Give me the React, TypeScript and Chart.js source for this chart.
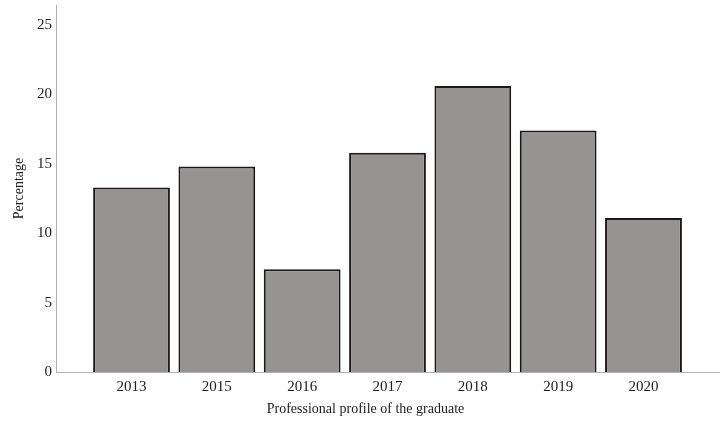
import { useEffect, useRef } from "react";
import { Chart, registerables } from "chart.js";

Chart.register(...registerables);

const categories = ["2013", "2015", "2016", "2017", "2018", "2019", "2020"];
const percentages = [13.3, 14.8, 7.4, 15.8, 20.6, 17.4, 11.1];
const yTicks = [0, 5, 10, 15, 20, 25];
const yTitle = "Percentage";
const xTitle = "Professional profile of the graduate";

const FONT = "'Liberation Serif', 'Times New Roman', serif";

export default function App() {
  const ref = useRef<HTMLCanvasElement>(null);

  useEffect(() => {
    const xTitlePlugin = {
      id: "xTitleCustom",
      afterDraw(chart: any) {
        const { ctx, chartArea } = chart;
        ctx.save();
        ctx.font = `14px ${FONT}`;
        ctx.fillStyle = "#222";
        ctx.textAlign = "center";
        ctx.textBaseline = "middle";
        ctx.fillText(xTitle, (chartArea.left + chartArea.right) / 2 - 22, chartArea.bottom + 37);
        ctx.restore();
      },
    };

    const chart = new Chart(ref.current!, {
      type: "bar",
      data: {
        datasets: [
          {
            data: categories.map((c, i) => ({ x: i, y: percentages[i] })),
            backgroundColor: "#989393",
            borderColor: "#1a1a1a",
            borderWidth: 2,
            barPercentage: 0.9,
            categoryPercentage: 1,
          },
        ],
      },
      options: {
        responsive: false,
        animation: false,
        layout: { padding: { top: 5, right: 9, left: 0, bottom: 0 } },
        plugins: { legend: { display: false }, tooltip: { enabled: false } },
        scales: {
          x: {
            type: "linear",
            offset: false,
            min: -0.885,
            max: 6.885,
            grid: { display: false, drawTicks: false, offset: false },
            border: { display: true, color: "#b0b0b0", width: 1 },
            ticks: {
              padding: 6,
              color: "#222",
              font: { family: FONT, size: 15 },
              callback: (v: any) => categories[v] ?? "",
            },
            afterBuildTicks: (axis: any) => {
              axis.ticks = categories.map((_, i) => ({ value: i }));
            },
            afterFit: (axis: any) => {
              axis.height = 56;
              axis.paddingLeft = 0;
              axis.paddingRight = 0;
            },
          },
          y: {
            min: 0,
            max: 26.44,
            grid: { display: false, drawTicks: false },
            border: { display: true, color: "#b0b0b0", width: 1 },
            ticks: {
              padding: 4,
              color: "#222",
              font: { family: FONT, size: 15 },
            },
            afterBuildTicks: (axis: any) => {
              axis.ticks = yTicks.map((v) => ({ value: v }));
            },
            afterFit: (axis: any) => {
              axis.width = 56;
              axis.paddingTop = 0;
              axis.paddingBottom = 0;
            },
            title: {
              display: true,
              text: yTitle,
              color: "#222",
              font: { family: FONT, size: 14 },
              padding: { top: 11, bottom: 0 },
            },
          },
        },
      },
      plugins: [xTitlePlugin],
    } as any);

    return () => chart.destroy();
  }, []);

  return (
    <div style={{ position: "fixed", left: 0, top: 0, width: 728, height: 428, background: "#fff" }}>
      <canvas ref={ref} width={728} height={428} style={{ width: 728, height: 428, display: "block" }} />
    </div>
  );
}
